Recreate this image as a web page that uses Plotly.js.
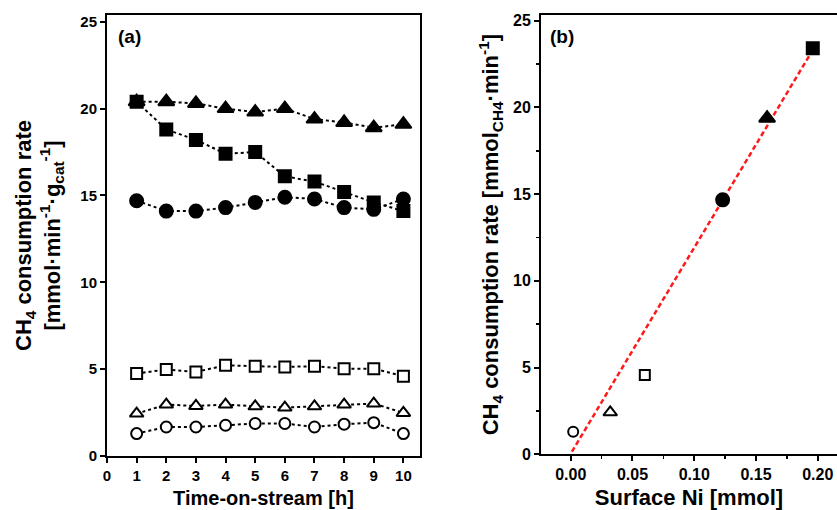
<!DOCTYPE html>
<html>
<head>
<meta charset="utf-8">
<script src="https://cdn.plot.ly/plotly-3.0.1.min.js"></script>
<style>html,body{margin:0;padding:0;background:#fff}#chart{width:837px;height:510px}</style>
</head>
<body>
<div id="chart"></div>
<script>
// ---- Data ----
var timeOnStream = [1, 2, 3, 4, 5, 6, 7, 8, 9, 10];
var filledTriangle = [20.4, 20.4, 20.3, 20.0, 19.8, 20.0, 19.4, 19.2, 18.9, 19.1];
var filledSquare   = [20.4, 18.8, 18.2, 17.4, 17.5, 16.1, 15.8, 15.2, 14.6, 14.1];
var filledCircle   = [14.7, 14.1, 14.1, 14.3, 14.6, 14.9, 14.8, 14.3, 14.2, 14.8];
var openSquare     = [4.75, 4.98, 4.84, 5.22, 5.17, 5.13, 5.17, 5.03, 5.03, 4.59];
var openTriangle   = [2.44, 2.96, 2.88, 2.96, 2.86, 2.79, 2.86, 2.96, 3.02, 2.48];
var openCircle     = [1.29, 1.67, 1.67, 1.77, 1.87, 1.87, 1.67, 1.83, 1.92, 1.29];

var surfaceNi = [0.002, 0.032, 0.060, 0.123, 0.159, 0.196];
var rateB     = [1.30, 2.42, 4.57, 14.67, 19.38, 23.41];
var fitX = [0.001, 0.195];
var fitY = [0.15, 23.2];

var xTicksA = [0, 1, 2, 3, 4, 5, 6, 7, 8, 9, 10];
var yTicksA = [0, 5, 10, 15, 20, 25];
var xTicksB = [0.00, 0.05, 0.10, 0.15, 0.20];
var xTickLabelsB = ['0.00', '0.05', '0.10', '0.15', '0.20'];
var yTicksB = [0, 5, 10, 15, 20, 25];

// ---- Styles ----
var FONT = 'Liberation Sans, Arial, sans-serif';
function bold(arr) { return arr.map(function (v) { return '<b>' + v + '</b>'; }); }

function lineTrace(y, symbol, filled, size) {
  return {
    x: timeOnStream, y: y, xaxis: 'x', yaxis: 'y',
    type: 'scatter', mode: 'lines+markers',
    line: {color: '#000', width: 2, dash: 'dot'},
    marker: {symbol: symbol, size: size, color: filled ? '#000' : '#fff', opacity: 1,
             line: {color: '#000', width: 2}},
    showlegend: false, hoverinfo: 'x+y'
  };
}
var traces = [
  lineTrace(filledCircle, 'circle', true, 13),
  lineTrace(filledSquare, 'square', true, 12),
  lineTrace(filledTriangle, 'triangle-up', true, 14),
  lineTrace(openSquare, 'square', false, 11),
  lineTrace(openTriangle, 'triangle-up', false, 12),
  lineTrace(openCircle, 'circle', false, 11),
  {
    x: fitX, y: fitY, xaxis: 'x2', yaxis: 'y2', type: 'scatter', mode: 'lines',
    line: {color: '#ff1a1a', width: 2.5, dash: '5px,3px'}, showlegend: false
  },
  {
    x: surfaceNi, y: rateB, xaxis: 'x2', yaxis: 'y2', type: 'scatter', mode: 'markers',
    marker: {
      symbol: ['circle', 'triangle-up', 'square', 'circle', 'triangle-up', 'square'],
      size: [10, 12, 10, 13, 14, 12], opacity: 1,
      color: ['#fff', '#fff', '#fff', '#000', '#000', '#000'],
      line: {color: '#000', width: 2}
    },
    showlegend: false
  }
];

var axisCommon = {
  showline: true, linecolor: '#000', linewidth: 2,
  ticks: 'outside', ticklen: 5, tickwidth: 2, tickcolor: '#000',
  showgrid: false, zeroline: false, automargin: false,
  tickfont: {family: FONT, size: 15, color: '#000'}
};
function ax(extra) { return Object.assign({}, axisCommon, extra); }

var layout = {
  width: 837, height: 510,
  margin: {l: 0, r: 0, t: 15, b: 54},
  paper_bgcolor: '#fff', plot_bgcolor: '#fff',
  font: {family: FONT, color: '#000'},
  xaxis: ax({
    domain: [107 / 837, 420 / 837], range: [0, 10.56], mirror: true,
    tickmode: 'array', tickvals: xTicksA, ticktext: bold(xTicksA), anchor: 'y',
    title: {text: '<b>Time-on-stream [h]</b>', font: {family: FONT, size: 20, color: '#000'}, standoff: 8}
  }),
  yaxis: ax({
    domain: [0, 1], range: [0, 25.39], mirror: true,
    tickmode: 'array', tickvals: yTicksA, ticktext: bold(yTicksA), anchor: 'x',
    title: {text: '<b>CH<sub>4</sub> consumption rate<br>[mmol·min<sup>-1</sup>·g<sub>cat</sub><sup>-1</sup>]</b>',
            font: {family: FONT, size: 22, color: '#000'}, standoff: 14}
  }),
  xaxis2: ax({
    domain: [541 / 837, 1], range: [-0.02405, 0.2156], mirror: true,
    tickmode: 'array', tickvals: xTicksB, ticktext: bold(xTickLabelsB), anchor: 'y2',
    tickfont: {family: FONT, size: 16, color: '#000'},
    minor: {dtick: 0.025, ticks: 'outside', ticklen: 3, tickwidth: 1.5, tickcolor: '#000'},
    title: {text: '<b>Surface Ni [mmol]</b>', font: {family: FONT, size: 22, color: '#000'}, standoff: 8}
  }),
  yaxis2: ax({
    domain: [0.004, 1], range: [0, 25.33],
    tickmode: 'array', tickvals: yTicksB, ticktext: bold(yTicksB), anchor: 'x2',
    tickfont: {family: FONT, size: 16, color: '#000'},
    minor: {dtick: 2.5, ticks: 'outside', ticklen: 3, tickwidth: 1.5, tickcolor: '#000'},
    title: {text: '<b>CH<sub>4</sub> consumption rate [mmol<sub>CH4</sub>·min<sup>-1</sup>]</b>',
            font: {family: FONT, size: 22, color: '#000'}, standoff: 8}
  }),
  annotations: [
    {text: '<b>(a)</b>', xref: 'paper', yref: 'paper', x: 129 / 837, y: 1 - (36 - 15) / 441,
     xanchor: 'center', yanchor: 'middle', showarrow: false, font: {family: FONT, size: 19, color: '#000'}},
    {text: '<b>(b)</b>', xref: 'paper', yref: 'paper', x: 562 / 837, y: 1 - (36 - 15) / 441,
     xanchor: 'center', yanchor: 'middle', showarrow: false, font: {family: FONT, size: 19, color: '#000'}}
  ]
};

Plotly.newPlot('chart', traces, layout, {displayModeBar: false, staticPlot: true});
</script>
</body>
</html>
